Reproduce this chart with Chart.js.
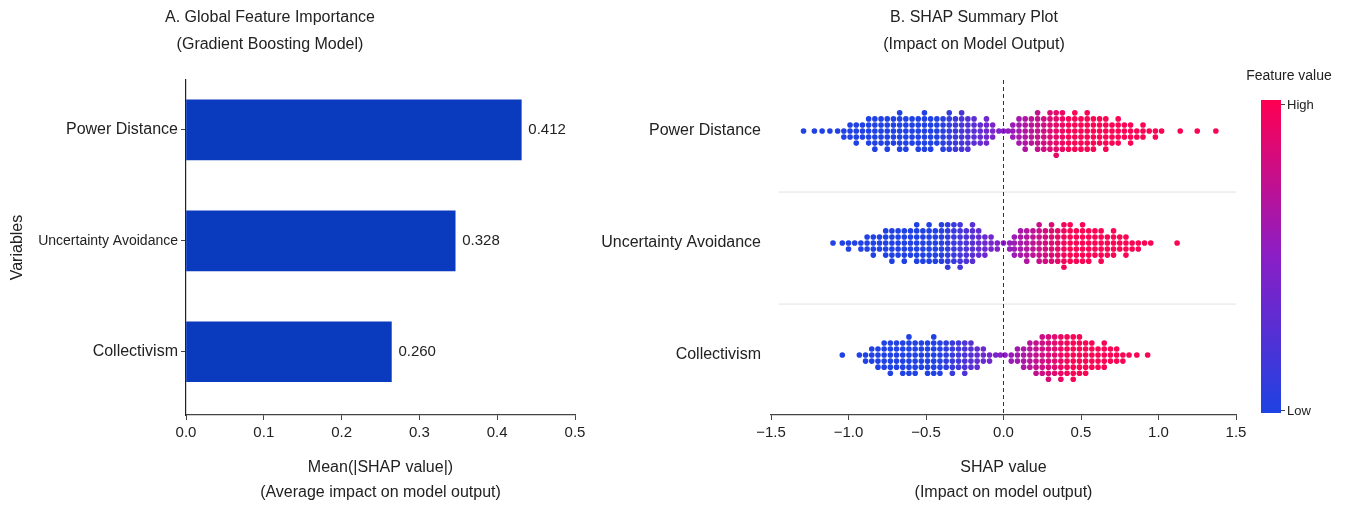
<!DOCTYPE html>
<html><head><meta charset="utf-8">
<script src="https://cdn.jsdelivr.net/npm/chart.js@4.4.1/dist/chart.umd.min.js"></script>
<style>
html,body{margin:0;padding:0;background:#fff;}
body{width:1346px;height:507px;position:relative;overflow:hidden;font-family:'Liberation Sans',Arial,sans-serif;color:#222;}
canvas{position:absolute;top:0;}
.t{position:absolute;font-size:16px;white-space:nowrap;transform:translate(-50%,-50%);line-height:1;}
.s{position:absolute;font-size:13px;white-space:nowrap;transform:translate(0,-50%);line-height:1;}
#cbar{position:absolute;left:1261px;top:100px;width:20px;height:313px;background:linear-gradient(to top,rgb(30,66,226),rgb(138,30,198) 50%,rgb(255,0,82));}
.tk{position:absolute;left:1281px;width:4px;height:1px;background:#444;}
</style></head><body>
<canvas id="a" width="620" height="507" style="left:0"></canvas>
<canvas id="b" width="756" height="507" style="left:590px"></canvas>
<div class="t" style="left:270px;top:17px">A. Global Feature Importance</div>
<div class="t" style="left:270px;top:44px">(Gradient Boosting Model)</div>
<div class="t" style="left:974px;top:17px">B. SHAP Summary Plot</div>
<div class="t" style="left:974px;top:44px">(Impact on Model Output)</div>
<div id="cbar"></div>
<div class="tk" style="top:104px"></div>
<div class="tk" style="top:410px"></div>
<div class="s" style="left:1287px;top:104px">High</div>
<div class="s" style="left:1287px;top:410px">Low</div>
<div class="t" style="left:1289px;top:75px;font-size:14px">Feature value</div>
<script>
const categories = ["Power Distance", "Uncertainty Avoidance", "Collectivism"];
const importance = [0.431, 0.346, 0.264];
const importanceLabels = ["0.412", "0.328", "0.260"];
const ticksA = ["0.0", "0.1", "0.2", "0.3", "0.4", "0.5"];
const ticksB = ["\u22121.5", "\u22121.0", "\u22120.5", "0.0", "0.5", "1.0", "1.5"];

// SHAP values read from the beeswarm: [shap value, number of dots stacked at that value]
const shapPowerDistance = [
 [-1.29,1],[-1.22,1],[-1.17,1],[-1.12,1],[-1.07,1],[-1.03,2],[-0.99,3],[-0.95,4],[-0.91,3],[-0.87,5],
 [-0.83,6],[-0.79,5],[-0.75,6],[-0.71,5],[-0.67,7],[-0.63,6],[-0.59,5],[-0.55,6],[-0.51,7],[-0.47,6],
 [-0.43,5],[-0.39,6],[-0.35,7],[-0.31,6],[-0.27,7],[-0.23,6],[-0.19,5],[-0.15,4],[-0.11,5],[-0.07,3],
 [-0.03,1],[0.00,1],[0.03,1],[0.06,3],[0.10,5],[0.14,6],[0.18,5],[0.22,7],[0.26,6],[0.30,7],
 [0.34,8],[0.38,7],[0.42,6],[0.46,7],[0.50,6],[0.54,7],[0.58,6],[0.62,5],[0.66,6],[0.70,4],
 [0.74,5],[0.78,3],[0.82,4],[0.86,2],[0.90,3],[0.94,1],[0.98,2],[1.02,1],[1.14,1],[1.25,1],[1.37,1]
];
const shapUncertaintyAvoidance = [
 [-1.10,1],[-1.04,1],[-1.00,2],[-0.96,1],[-0.92,2],[-0.88,3],[-0.84,4],[-0.80,3],[-0.76,5],[-0.72,6],
 [-0.68,5],[-0.64,6],[-0.60,5],[-0.56,7],[-0.52,6],[-0.48,7],[-0.44,6],[-0.40,7],[-0.36,8],[-0.32,7],
 [-0.28,8],[-0.24,6],[-0.20,7],[-0.16,5],[-0.12,4],[-0.08,3],[-0.04,2],[0.00,1],[0.04,2],[0.07,4],
 [0.11,5],[0.15,6],[0.19,5],[0.23,7],[0.27,6],[0.31,7],[0.35,6],[0.39,8],[0.43,7],[0.47,6],
 [0.51,7],[0.55,6],[0.59,5],[0.63,6],[0.67,4],[0.71,5],[0.75,3],[0.79,4],[0.83,2],[0.87,2],
 [0.91,1],[0.95,1],[1.12,1]
];
const shapCollectivism = [
 [-1.04,1],[-0.93,1],[-0.89,2],[-0.85,3],[-0.81,4],[-0.77,5],[-0.73,6],[-0.69,5],[-0.65,6],[-0.61,7],
 [-0.57,6],[-0.53,5],[-0.49,6],[-0.45,7],[-0.41,6],[-0.37,5],[-0.33,6],[-0.29,5],[-0.25,6],[-0.21,5],
 [-0.17,4],[-0.13,3],[-0.09,2],[-0.05,1],[-0.02,1],[0.01,1],[0.05,2],[0.09,3],[0.13,4],[0.17,5],
 [0.21,6],[0.25,7],[0.29,8],[0.33,7],[0.37,8],[0.41,7],[0.45,8],[0.49,7],[0.53,6],[0.57,5],
 [0.61,4],[0.65,5],[0.69,3],[0.73,3],[0.77,2],[0.81,1],[0.86,1],[0.93,1]
];
const shapRows = [shapPowerDistance, shapUncertaintyAvoidance, shapCollectivism];

Chart.defaults.font.family = "'Liberation Sans', Arial, sans-serif";
Chart.defaults.color = '#222';
Chart.defaults.animation = false;

// ---- Panel A ----
const barLabels = {
  id: 'barLabels',
  afterDatasetsDraw(chart) {
    const ctx = chart.ctx, meta = chart.getDatasetMeta(0);
    ctx.save();
    ctx.font = "15px 'Liberation Sans', Arial, sans-serif";
    ctx.fillStyle = '#222';
    ctx.textBaseline = 'middle';
    meta.data.forEach((el, i) => ctx.fillText(importanceLabels[i], el.x + 7, el.y));
    ctx.restore();
  }
};

new Chart(document.getElementById('a'), {
  type: 'bar',
  data: { datasets: [{
    data: importance.map((v, i) => ({ x: v, y: i })),
    backgroundColor: '#0a3bbf', borderWidth: 0, barThickness: 60
  }]},
  options: {
    responsive: false, devicePixelRatio: 1, indexAxis: 'y',
    layout: { padding: { left: 0, top: 80, right: 45, bottom: 0 } },
    plugins: { legend: { display: false }, tooltip: { enabled: false } },
    scales: {
      x: {
        type: 'linear', min: 0, max: 0.5,
        ticks: { stepSize: 0.1, callback: (v, i) => ticksA[i], font: { size: 15 }, color: '#222', padding: 4 },
        grid: { drawOnChartArea: false, drawTicks: true, tickLength: 5, color: '#444' },
        border: { display: true, color: '#444', width: 1.2 },
        title: { display: true, text: ['Mean(|SHAP value|)', '(Average impact on model output)'], font: { size: 16, lineHeight: 1.5625 }, color: '#222', padding: { top: 0, bottom: 1.5 } },
        afterFit: s => { s.height = 92; }
      },
      y: {
        type: 'linear', reverse: true, min: -0.45, max: 2.57, offset: false,
        afterBuildTicks: s => { s.ticks = categories.map((c, i) => ({ value: i })); },
        ticks: { callback: v => categories[v], font: c => ({ size: (c.tick && c.tick.value === 1) ? 14 : 16 }), color: '#222', padding: 3 },
        grid: { offset: false, drawOnChartArea: false, drawTicks: true, tickLength: 5, color: '#444' },
        border: { display: true, color: '#222', width: 1.2 },
        title: { display: true, text: 'Variables', font: { size: 16 }, color: '#222', padding: { top: 8, bottom: 0 } },
        afterFit: s => { s.width = 186; }
      }
    }
  },
  plugins: [barLabels]
});

// ---- Panel B ----
const Y_MIN_B = -0.455, Y_MAX_B = 2.535, STEP = 0.054;
function swarm(bins, row) {
  const pts = [];
  bins.forEach(([x, n]) => {
    for (let k = 0; k < n; k++) {
      const off = Math.ceil(k / 2) * (k % 2 ? 1 : -1);
      pts.push({ x: x, y: row + off * STEP });
    }
  });
  return pts;
}
function mix(a, b, t) { return a.map((v, i) => Math.round(v + (b[i] - v) * t)); }
function shapColor(x) {
  const t = Math.max(0, Math.min(1, 0.5 + x / 0.85));
  const lo = [32, 66, 228], mid = [138, 30, 200], hi = [250, 4, 84];
  const c = t < 0.5 ? mix(lo, mid, t / 0.5) : mix(mid, hi, (t - 0.5) / 0.5);
  return `rgb(${c[0]},${c[1]},${c[2]})`;
}

const dsB = [];
shapRows.forEach((bins, r) => {
  const pts = swarm(bins, r);
  dsB.push({ data: pts, pointBackgroundColor: pts.map(p => shapColor(p.x)), pointBorderWidth: 0, pointRadius: 2.8, showLine: false, order: 1 });
});
[0.545, 1.545].forEach(s => {
  dsB.push({ data: [{ x: -1.45, y: s }, { x: 1.5, y: s }], showLine: true, borderColor: '#e2e2e2', borderWidth: 1, pointRadius: 0, order: 2 });
});
dsB.push({ data: [{ x: 0, y: Y_MIN_B }, { x: 0, y: Y_MAX_B }], showLine: true, borderColor: '#333', borderWidth: 1, borderDash: [4, 3], pointRadius: 0, order: 0 });

new Chart(document.getElementById('b'), {
  type: 'scatter',
  data: { datasets: dsB },
  options: {
    responsive: false, devicePixelRatio: 1,
    layout: { padding: { left: 0, top: 80, right: 110, bottom: 0 } },
    plugins: { legend: { display: false }, tooltip: { enabled: false } },
    scales: {
      x: {
        type: 'linear', min: -1.5, max: 1.5,
        ticks: { stepSize: 0.5, callback: (v, i) => ticksB[i], font: { size: 15 }, color: '#222', padding: 4 },
        grid: { drawOnChartArea: false, drawTicks: true, tickLength: 5, color: '#444' },
        border: { display: true, color: '#444', width: 1.2 },
        title: { display: true, text: ['SHAP value', '(Impact on model output)'], font: { size: 16, lineHeight: 1.5625 }, color: '#222', padding: { top: 0, bottom: 1.5 } },
        afterFit: s => { s.height = 92; }
      },
      y: {
        type: 'linear', reverse: true, min: Y_MIN_B, max: Y_MAX_B,
        afterBuildTicks: s => { s.ticks = categories.map((c, i) => ({ value: i })); },
        ticks: { callback: v => categories[v], font: { size: 16 }, color: '#222', padding: 10 },
        grid: { display: false, drawTicks: false },
        border: { display: false },
        afterFit: s => { s.width = 181; }
      }
    }
  }
});
</script>
</body></html>
